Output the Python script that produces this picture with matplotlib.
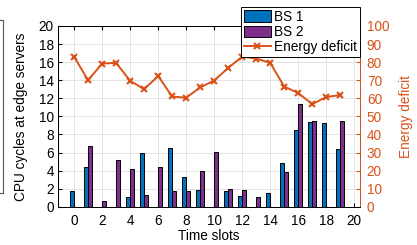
import numpy as np
import matplotlib
matplotlib.use('Agg')
import matplotlib.pyplot as plt
from matplotlib.lines import Line2D

plt.rcParams['font.family'] = ['Liberation Sans', 'DejaVu Sans']
plt.rcParams['font.size'] = 9.8

# --------------------------- data ---------------------------
slots = np.arange(20)
bs1 = [1.8, 4.4, 0, 0, 1.1, 5.9, 0, 6.5, 3.3, 1.85, 0, 1.75, 1.2, 0, 1.5, 4.8, 8.45, 9.33, 9.3, 6.38]
bs2 = [0, 6.7, 0.63, 5.2, 4.15, 1.3, 4.4, 1.8, 1.7, 3.95, 6.1, 1.96, 1.85, 1.1, 0, 3.9, 11.37, 9.52, 0, 9.45]
deficit = [83.0, 70.0, 79.2, 79.6, 69.7, 65.0, 72.3, 61.0, 60.3, 66.0,
           69.8, 76.8, 83.0, 82.0, 79.6, 66.5, 62.9, 56.8, 60.7, 61.8]

c_bs1 = '#0072BD'
c_bs2 = '#7E2F8E'
c_def = '#D95319'

# --------------------------- plotting ---------------------------
fig = plt.figure(figsize=(4.17, 2.45), dpi=100)
ax1 = fig.add_axes([0.139, 0.156, 0.724, 0.738])

w = 0.28
b1 = ax1.bar(slots - 0.15, bs1, width=w, color=c_bs1, edgecolor='black', linewidth=0.7, label='BS 1', zorder=2)
b2 = ax1.bar(slots + 0.15, bs2, width=w, color=c_bs2, edgecolor='black', linewidth=0.7, label='BS 2', zorder=2)

ax1.set_xlim(-1.15, 20.4)
ax1.set_ylim(0, 20)
ax1.set_xticks(np.arange(0, 21, 2))
ax1.set_yticks(np.arange(0, 21, 2))
ax1.grid(True, color='#e3e3e3', linewidth=0.7, zorder=0)
ax1.set_axisbelow(True)
ax1.tick_params(direction='in', length=3, top=True, right=False)
ax1.tick_params(axis='x', pad=5)
ax1.tick_params(axis='y', pad=3)
ax1.set_xlabel('Time slots', labelpad=1)
ax1.set_ylabel('CPU cycles at edge servers', labelpad=8)

ax2 = ax1.twinx()
ln, = ax2.plot(slots, deficit, color=c_def, marker='x', markersize=5, mew=1.5,
               linewidth=1.4, label='Energy deficit', zorder=3)
ax2.set_ylim(0, 100)
ax2.set_yticks(np.arange(0, 101, 10))
ax2.tick_params(direction='in', length=3, colors=c_def, pad=5)
ax2.set_ylabel('Energy deficit', color=c_def, labelpad=7)

for a in (ax1, ax2):
    for s in a.spines.values():
        s.set_linewidth(0.7)
ax2.spines['right'].set_color(c_def)

leg = ax2.legend([b1, b2, ln], ['BS 1', 'BS 2', 'Energy deficit'],
                 loc='upper right', bbox_to_anchor=(1.0, 1.105), borderaxespad=0,
                 fancybox=False, edgecolor='black', framealpha=1,
                 handlelength=2.0, handleheight=0.9, handletextpad=0.25, labelspacing=0.1,
                 borderpad=0.2)
leg.get_frame().set_linewidth(0.7)

# edge of neighbouring panel cropped at the left
edge_x = np.array([0, 3, 3, 0]) / 417
edge_y = (245 - np.array([20.5, 20.5, 193, 193])) / 245
fig.add_artist(Line2D(edge_x, edge_y, transform=fig.transFigure, color='#555555', linewidth=0.8))

fig.savefig('out.png', dpi=100)
